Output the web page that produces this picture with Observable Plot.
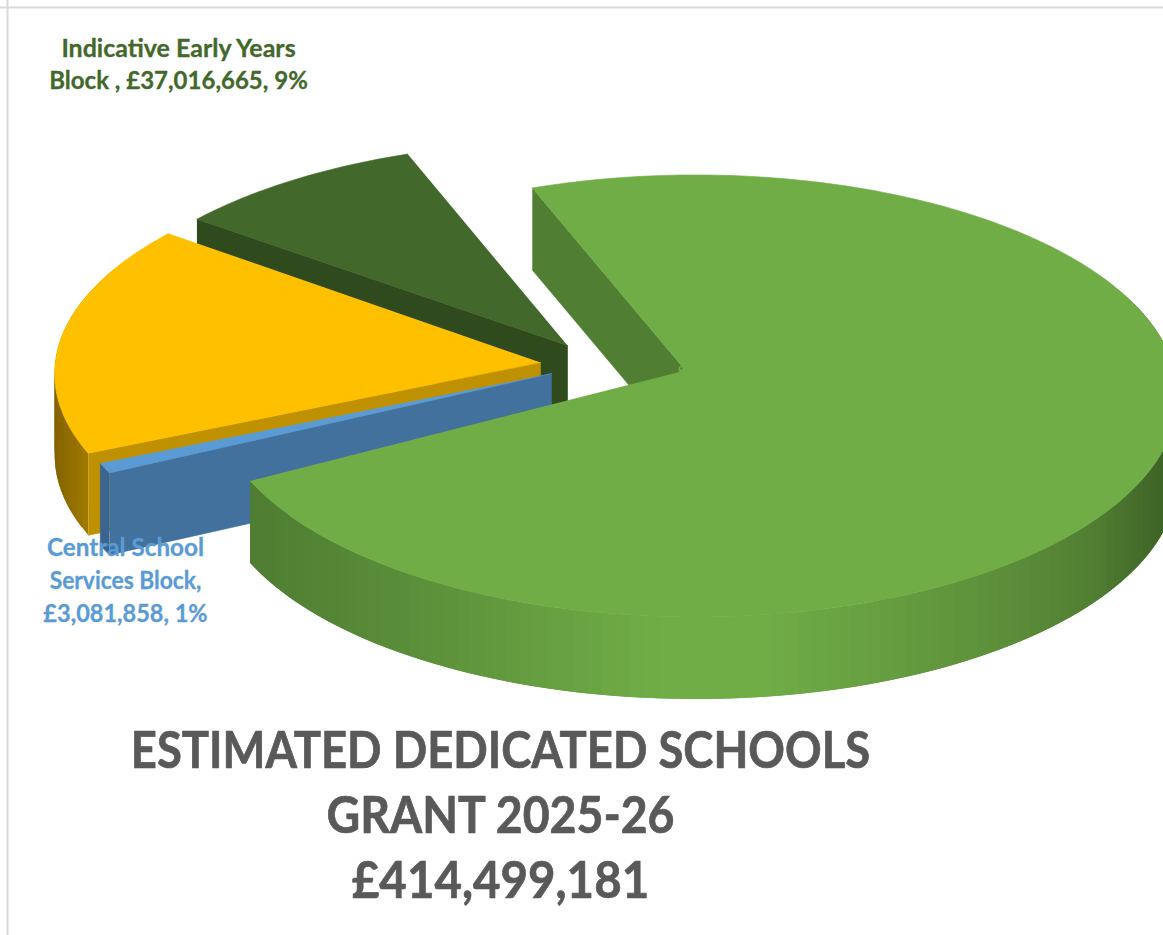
<!DOCTYPE html>
<html>
<head>
<meta charset="utf-8">
<title>Estimated Dedicated Schools Grant 2025-26</title>
<script src="https://cdn.jsdelivr.net/npm/d3@7"></script>
<script src="https://cdn.jsdelivr.net/npm/@observablehq/plot@0.6"></script>
<style>
  html, body { margin: 0; padding: 0; background: #fff; overflow: hidden; }
  svg { display: block; }
</style>
</head>
<body>
<script>
// Dedicated Schools Grant funding blocks, in pounds.
const grantTotal = 414499181;
const earlyYears = 37016665;
const centralServices = 3081858;
const highNeeds = 71000000;
const schools = grantTotal - earlyYears - centralServices - highNeeds;

const earlyYearsLines = ["Indicative Early Years", "Block , £37,016,665, 9%"];
const centralLines = ["Central School", "Services Block,", "£3,081,858, 1%"];
const titleLines = ["ESTIMATED DEDICATED SCHOOLS", "GRANT 2025-26", "£414,499,181"];

const degreesPerPound = 360 / grantTotal;
const rad = Math.PI / 180;
const depth = 82;

// Exploded pie geometry: each slice has its own tip and foreshortened ellipse.
const schoolsStart = -22.2;
const schoolsEnd = schoolsStart + schools * degreesPerPound;
const centralEnd = schoolsEnd + centralServices * degreesPerPound;
const highNeedsEnd = centralEnd + highNeeds * degreesPerPound;
const earlyEnd = highNeedsEnd + earlyYears * degreesPerPound;
const turn = 1.5;

const schoolsView = {tip: [685, 370], cx: 695, cy: 369.5, rx: 479, ry: 218, p: 0.1176};
const highNeedsView = {tip: [540, 362], cx: 545, cy: 360, rx: 490, ry: 218, p: 0.06};
const centralView = {tip: [551, 373], cx: 557, cy: 370, rx: 490, ry: 218, p: 0.06};
const earlyView = {tip: [567, 345], cx: 569.5, cy: 344, rx: 485, ry: 215, p: 0.06};

function rim(view, deg) {
  const X = Math.sin(deg * rad), Y = -Math.cos(deg * rad);
  const k = 1 - view.p * Y;
  return [view.cx + view.rx * X / k, view.cy + view.ry * Y / k];
}
const arc = (view, a, b) => {
  const n = Math.max(2, Math.ceil(Math.abs(b - a)));
  return d3.range(n + 1).map((i) => rim(view, a + (b - a) * i / n));
};
const lower = ([x, y]) => [x, y + depth];

const polygons = [];
let nextId = 0;
function polygon(points, fill, stroke = fill) {
  const id = nextId++;
  for (const [x, y] of points) polygons.push({id, x, y, fill, stroke});
}
const wall = (p, q, fill, stroke = fill) => polygon([p, q, lower(q), lower(p)], fill, stroke);

// Curved side faces: each band overlaps the next so no seam shows between them.
function bands(view, a, b, step, shade) {
  for (let t = a; t < b; t += step) {
    const p = rim(view, t), q = rim(view, Math.min(t + 2 * step, b));
    const mid = rim(view, Math.min(t + step / 2, b));
    wall(p, q, shade(mid[0]), "none");
  }
}

const schoolsShade = d3.scaleLinear()
  .domain([252, 400, 660, 760, 1000, 1090, 1170])
  .range(["#4f7d32", "#5a8d39", "#70ad47", "#70ad47", "#5d8f3a", "#517f33", "#3d6125"]);
const highNeedsShade = d3.scaleLinear()
  .domain([55, 75, 92])
  .range(["#846400", "#967100", "#a67d00"]);

// Slices are painted back to front.
wall(rim(earlyView, highNeedsEnd + turn), earlyView.tip, "#2f4a1c");
polygon([earlyView.tip, ...arc(earlyView, highNeedsEnd + turn, earlyEnd + turn)], "#43682b");

bands(highNeedsView, centralEnd + turn, centralEnd + turn + 50, 2, highNeedsShade);
wall(rim(highNeedsView, centralEnd + turn), highNeedsView.tip, "#bf9000");
polygon([highNeedsView.tip, ...arc(highNeedsView, centralEnd + turn, highNeedsEnd + turn)], "#ffc000");

wall(rim(centralView, schoolsEnd + turn), rim(centralView, centralEnd + turn), "#3b6590");
wall(rim(centralView, schoolsEnd + turn), centralView.tip, "#41719c");
polygon([centralView.tip, ...arc(centralView, schoolsEnd + turn, centralEnd + turn)], "#5b9bd5");

wall(rim(schoolsView, schoolsStart), schoolsView.tip, "#507e32");
bands(schoolsView, 70, schoolsEnd, 1.5, schoolsShade);
polygon([schoolsView.tip, ...arc(schoolsView, schoolsStart, schoolsEnd)], "#70ad47");

const textLine = (lines, x, firstBaseline, leading, fontSize, fill, weight, group) =>
  Plot.text(lines, {
    text: (d) => d,
    x: () => x,
    y: (d, i) => firstBaseline + i * leading,
    textAnchor: "middle",
    lineAnchor: "bottom",
    fontFamily: "Lato",
    fontWeight: 700,
    fontSize,
    fill,
    stroke: fill,
    strokeWidth: weight,
    className: group
  });

const chart = Plot.plot({
  width: 1163,
  height: 935,
  margin: 0,
  x: {axis: null, domain: [0, 1163], range: [0, 1163]},
  y: {axis: null, domain: [0, 935], range: [0, 935]},
  marks: [
    Plot.ruleY([7], {stroke: "#d9d9d9", strokeWidth: 2}),
    Plot.ruleX([7], {stroke: "#d9d9d9", strokeWidth: 2}),
    Plot.line(polygons, {
      x: "x",
      y: "y",
      z: "id",
      fill: {value: "fill", scale: null},
      stroke: {value: "stroke", scale: null},
      strokeWidth: 0.6
    }),
    // Small rounded notch where the schools slice meets its inner wall.
    Plot.dot([schoolsView.tip], {x: (d) => d[0] - 3, y: (d) => d[1] - 1, r: 4, fill: "#70ad47"}),
    Plot.dot([schoolsView.tip], {x: (d) => d[0] - 4, y: (d) => d[1] - 2, r: 1.2, fill: "#507e32"}),
    textLine(earlyYearsLines, 178, 56, 32.5, 24, "#43682b", 0.3, "early-label"),
    textLine(centralLines, 125, 555, 33, 24, "#5b9bd5", 0.3, "central-label"),
    textLine(titleLines, 500, 767, 65, 51, "#595959", 0.7, "grant-title")
  ]
});
document.body.appendChild(chart);

// Lato's widths differ from the design's text, so each line is set to its own width.
const fit = (selector, factors) => {
  chart.querySelectorAll(`.${selector} text`).forEach((t, i) => {
    t.setAttribute("textLength", t.getComputedTextLength() * factors[i]);
    t.setAttribute("lengthAdjust", "spacingAndGlyphs");
  });
};
fit("early-label", [1.04, 1.0]);
fit("central-label", [1.01, 0.95, 0.98]);
fit("grant-title", [0.89, 0.91, 0.93]);
</script>
</body>
</html>
